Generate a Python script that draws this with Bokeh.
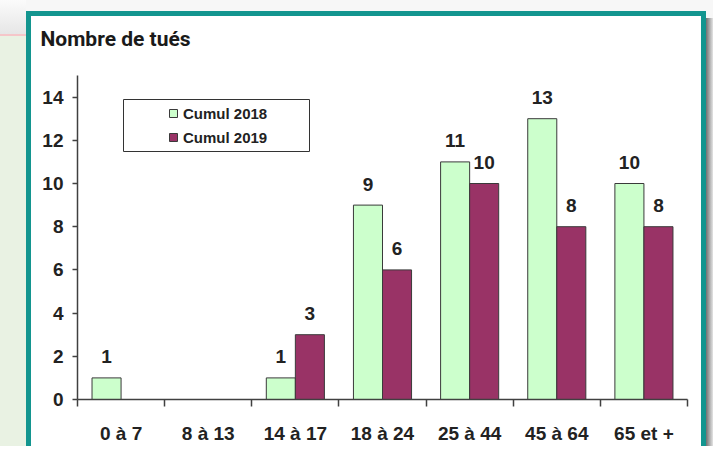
from bokeh.plotting import figure
from bokeh.models import (FixedTicker, Legend, LegendItem, BoxAnnotation, ColumnDataSource)
from bokeh.core.properties import value
from bokeh.embed import file_html
from bokeh.resources import INLINE

# ---- data ----
categories = ["0 à 7", "8 à 13", "14 à 17", "18 à 24", "25 à 44", "45 à 64", "65 et +"]
cumul_2018 = [1, 0, 1, 9, 11, 13, 10]
cumul_2019 = [0, 0, 3, 6, 10, 8, 8]
series_names = ["Cumul 2018", "Cumul 2019"]
y_ticks = [0, 2, 4, 6, 8, 10, 12, 14]
title_text = "Nombre de tués"

GREEN = "#CCFFCC"
MAROON = "#993366"
TEAL = "#13958F"
FONT = "Liberation Sans"

p = figure(width=713, height=446, output_backend="svg", toolbar_location=None,
           x_range=(0, len(categories)), y_range=(0, 15),
           min_border_left=77, min_border_right=26, min_border_top=74, min_border_bottom=47)
p.border_fill_alpha = 0
p.background_fill_color = "white"
p.outline_line_color = None
p.xgrid.visible = False
p.ygrid.visible = False

# decorative page background and teal panel frame (CSS on the plot element)
def layer(color, x, y, w, h):
    return f"linear-gradient({color},{color}) {x}px {y}px / {w}px {h}px no-repeat"

p.styles = {"background": ", ".join([
    layer(TEAL, 26, 11, 5, 460),
    layer(TEAL, 26, 11, 680, 5),
    layer(TEAL, 701, 11, 5, 460),
    layer("#ffffff", 31, 16, 670, 460),
    "linear-gradient(to right,#707070,#e4e4e4) 706px 18px / 7px 460px no-repeat",
    layer("#f5c6c9", 0, 34, 26, 2),
    layer("#e9f2e3", 0, 36, 26, 430),
    "linear-gradient(#fbfbfb,#e6e6e6) 0px 0px / 26px 34px no-repeat",
    "#f7f7f7",
])}

# legend box
p.add_layout(BoxAnnotation(left=123, right=309, top=99, bottom=151,
                           left_units="canvas", right_units="canvas",
                           top_units="canvas", bottom_units="canvas",
                           fill_color="white", fill_alpha=1, line_color="#333333",
                           line_width=1, line_alpha=1, level="underlay"))

# bars
n = len(categories)
bw = 1 / 3
x18 = [i + 0.5 - bw / 2 for i in range(n)]
x19 = [i + 0.5 + bw / 2 for i in range(n)]
s18 = ColumnDataSource(dict(x=[x for x, v in zip(x18, cumul_2018) if v > 0],
                            top=[v for v in cumul_2018 if v > 0]))
s19 = ColumnDataSource(dict(x=[x for x, v in zip(x19, cumul_2019) if v > 0],
                            top=[v for v in cumul_2019 if v > 0]))
r18 = p.vbar(x="x", top="top", width=bw, bottom=0, source=s18,
             fill_color=GREEN, line_color="#3a3a3a", line_width=1)
r19 = p.vbar(x="x", top="top", width=bw, bottom=0, source=s19,
             fill_color=MAROON, line_color="#3a3a3a", line_width=1)

# value labels
for src in (s18, s19):
    src.data["label"] = [str(v) for v in src.data["top"]]
    p.text(x="x", y="top", text="label", source=src, text_align="center",
           text_baseline="alphabetic", y_offset=-21, text_font=value(FONT),
           text_font_style="bold", text_font_size="19px", text_color="#222222")

# axes
xa = p.xaxis[0]
xa.ticker = FixedTicker(ticks=[i + 0.5 for i in range(n)], minor_ticks=list(range(n + 1)))
xa.major_label_overrides = {i + 0.5: c for i, c in enumerate(categories)}
xa.major_tick_out = 0
xa.major_tick_in = 0
xa.minor_tick_out = 7
xa.minor_tick_in = 0
xa.minor_tick_line_color = "#404040"
xa.minor_tick_line_width = 1.5
xa.major_label_standoff = 16
xa.axis_line_color = "#404040"
xa.axis_line_width = 1.5
xa.major_label_text_font = FONT
xa.major_label_text_font_style = "bold"
xa.major_label_text_font_size = "19px"
xa.major_label_text_color = "#222222"

ya = p.yaxis[0]
ya.ticker = FixedTicker(ticks=y_ticks, minor_ticks=[])
ya.major_tick_out = 5
ya.major_tick_in = 0
ya.major_tick_line_color = "#404040"
ya.major_tick_line_width = 1.5
ya.minor_tick_line_color = None
ya.major_label_standoff = 9
ya.axis_line_color = "#404040"
ya.axis_line_width = 1.5
ya.major_label_text_font = FONT
ya.major_label_text_font_style = "bold"
ya.major_label_text_font_size = "19px"
ya.major_label_text_color = "#222222"

# legend
legend = Legend(items=[LegendItem(label=series_names[0], renderers=[r18]),
                       LegendItem(label=series_names[1], renderers=[r19])],
                location=(91, 253), glyph_width=10, glyph_height=10,
                label_standoff=5, padding=0, spacing=6, label_height=18, margin=0,
                label_text_font=FONT, label_text_font_style="bold",
                label_text_font_size="15px", label_text_color="#222222",
                border_line_color=None, background_fill_alpha=0)
p.add_layout(legend, "center")

# title
p.title.text = title_text
p.title.align = "left"
p.title.offset = -37
p.title.standoff = 49
p.title.text_font = "Roboto"
p.title.text_font_style = "bold"
p.title.text_font_size = "21px"
p.title.text_color = "#1a1a1a"

open("out.html", "w").write(file_html(p, INLINE))
